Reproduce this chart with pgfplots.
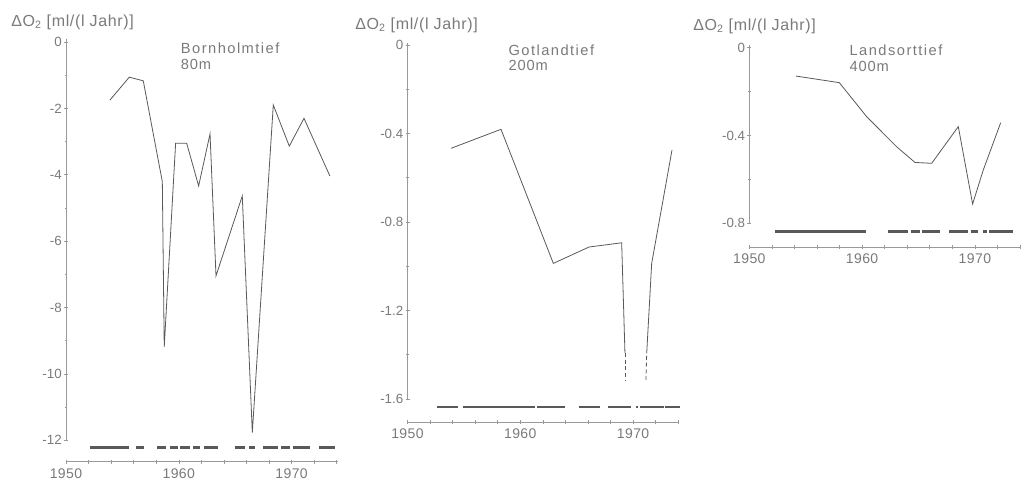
\documentclass[border=0pt]{standalone}
\usepackage{fontspec}
\setmainfont{Liberation Sans}
\usepackage{pgfplots}
\pgfplotsset{compat=1.18}
\definecolor{ink}{gray}{0.35}
\definecolor{txt}{gray}{0.48}
\definecolor{axc}{gray}{0.6}
\definecolor{barc}{gray}{0.35}
\pgfplotsset{
  panel/.style={
    scale only axis, clip=false,
    axis x line*=bottom, axis y line*=left,
    x axis line style={axc, line width=0.4pt},
    y axis line style={draw=none},
    xmin=1950, xmax=1974.1,
    width=203.85pt,
    tick align=center,
    major tick length=3pt, minor tick length=2pt,
    tick style={axc, line width=0.4pt},
    xtick={1950,1952,...,1974},
    xticklabels={1950,,,,,1960,,,,,1970,,},
    ticklabel style={font=\fontsize{10}{12}\selectfont, text=txt},
    xticklabel style={font=\fontsize{10.5}{12}\selectfont\addfontfeature{LetterSpace=3}},
    yticklabel style={inner sep=1.5pt},
    unbounded coords=jump,
  },
  dline/.style={ink, line width=0.6pt},
  dbar/.style={barc, line width=2pt},
}
\begin{document}
\begin{tikzpicture}
\useasboundingbox (0,0) rectangle (774pt,365.25pt);

% ---------- Bornholmtief ----------
\begin{axis}[panel, at={(49.5pt,18.98pt)}, anchor=south west,
  height=314.78pt, ymin=-12.65, ymax=0,
  ytick={-12,-10,-8,-6,-4,-2,0},
  yticklabels={-12,-10,-8,-6,-4,-2,0},
  minor ytick={-11,-9,-7,-5,-3,-1}]
\draw[axc, line width=0.4pt] (axis cs:1950,0.1) -- (axis cs:1950,-12);
\addplot[dline] coordinates {
 (1953.90,-1.75) (1955.61,-1.06) (1956.85,-1.17) (1958.54,-4.21)
 (1958.71,-9.19) (1959.72,-3.05) (1960.70,-3.05) (1961.76,-4.34)
 (1962.77,-2.77) (1963.30,-7.05) (1965.63,-4.64) (1966.52,-11.77)
 (1968.38,-1.90) (1969.80,-3.14) (1971.10,-2.30) (1973.40,-4.04)};
\addplot[dbar] coordinates {
 (1952.13,-12.23) (1955.59,-12.23) (1955.9,nan)
 (1956.2,-12.23) (1956.9,-12.23) (1957.5,nan)
 (1958.1,-12.23) (1958.9,-12.23) (1959.0,nan)
 (1959.2,-12.23) (1959.96,-12.23) (1960.0,nan)
 (1960.1,-12.23) (1961.0,-12.23) (1961.1,nan)
 (1961.3,-12.23) (1961.9,-12.23) (1962.0,nan)
 (1962.2,-12.23) (1963.5,-12.23) (1964.0,nan)
 (1965.0,-12.23) (1965.9,-12.23) (1966.0,nan)
 (1966.2,-12.23) (1966.8,-12.23) (1967.0,nan)
 (1967.5,-12.23) (1968.8,-12.23) (1968.9,nan)
 (1969.1,-12.23) (1969.86,-12.23) (1970.0,nan)
 (1970.15,-12.23) (1971.6,-12.23) (1972.0,nan)
 (1972.45,-12.23) (1973.85,-12.23)};
\end{axis}

% ---------- Gotlandtief ----------
\begin{axis}[panel, at={(305.63pt,48.75pt)}, anchor=south west,
  height=282.75pt, ymin=-1.704, ymax=0,
  ytick={-1.6,-1.2,-0.8,-0.4,0},
  yticklabels={-1.6,-1.2,-0.8,-0.4,0},
  minor ytick={-1.4,-1.0,-0.6,-0.2}]
\draw[axc, line width=0.4pt] (axis cs:1950,0.01) -- (axis cs:1950,-1.6);
\addplot[dline] coordinates {
 (1953.86,-0.467) (1958.29,-0.381) (1962.93,-0.987) (1966.10,-0.913)
 (1968.99,-0.894) (1969.28,-1.392)};
\addplot[dline, densely dashed] coordinates {(1969.28,-1.392) (1969.28,-1.514)};
\addplot[dline, densely dashed] coordinates {(1971.14,-1.514) (1971.21,-1.392)};
\addplot[dline] coordinates {
 (1971.21,-1.392) (1971.65,-0.987) (1973.45,-0.475)};
\addplot[dbar] coordinates {
 (1952.6,-1.636) (1954.5,-1.636) (1954.7,nan)
 (1954.9,-1.636) (1961.3,-1.636) (1961.4,nan)
 (1961.5,-1.636) (1964.0,-1.636) (1964.5,nan)
 (1965.2,-1.636) (1967.1,-1.636) (1967.5,nan)
 (1967.8,-1.636) (1969.8,-1.636) (1970.0,nan)
 (1970.3,-1.636) (1970.45,-1.636) (1970.5,nan)
 (1970.65,-1.636) (1972.7,-1.636) (1972.75,nan)
 (1972.8,-1.636) (1974.2,-1.636)};
\end{axis}

% ---------- Landsorttief ----------
\begin{axis}[panel, at={(561.98pt,179.78pt)}, anchor=south west,
  height=149.85pt, ymin=-0.909, ymax=0,
  ytick={-0.8,-0.4,0},
  yticklabels={-0.8,-0.4,0},
  minor ytick={-0.6,-0.2}]
\draw[axc, line width=0.4pt] (axis cs:1950,0.01) -- (axis cs:1950,-0.8);
\addplot[dline] coordinates {
 (1954.14,-0.130) (1957.98,-0.160) (1960.41,-0.315) (1963.07,-0.452)
 (1964.69,-0.523) (1966.17,-0.527) (1968.53,-0.360) (1969.80,-0.712)
 (1970.74,-0.558) (1972.29,-0.342)};
\addplot[dbar] coordinates {
 (1952.29,-0.838) (1960.36,-0.838) (1961.0,nan)
 (1962.3,-0.838) (1964.1,-0.838) (1964.2,nan)
 (1964.3,-0.838) (1965.1,-0.838) (1965.2,nan)
 (1965.3,-0.838) (1966.95,-0.838) (1967.3,nan)
 (1967.73,-0.838) (1969.41,-0.838) (1969.5,nan)
 (1969.65,-0.838) (1970.28,-0.838) (1970.5,nan)
 (1970.73,-0.838) (1971.1,-0.838) (1971.2,nan)
 (1971.25,-0.838) (1973.35,-0.838)};
\end{axis}

% ---------- texts ----------
\begin{scope}[every node/.style={anchor=west, inner sep=0pt, text=txt}]
\node[font=\fontsize{12}{14}\selectfont\addfontfeature{LetterSpace=4}] at (8.25pt,348.75pt) {ΔO\textsubscript{2} [ml/(l Jahr)]};
\node[font=\fontsize{12}{14}\selectfont\addfontfeature{LetterSpace=4}] at (266.25pt,346.5pt) {ΔO\textsubscript{2} [ml/(l Jahr)]};
\node[font=\fontsize{12}{14}\selectfont\addfontfeature{LetterSpace=4}] at (519.75pt,345.75pt) {ΔO\textsubscript{2} [ml/(l Jahr)]};
\node[font=\fontsize{11}{13}\selectfont\addfontfeature{LetterSpace=10}] at (135.5pt,329.25pt) {Bornholmtief};
\node[font=\fontsize{11}{13}\selectfont\addfontfeature{LetterSpace=6}] at (135.5pt,317.25pt) {80m};
\node[font=\fontsize{11}{13}\selectfont\addfontfeature{LetterSpace=10}] at (381.2pt,327.75pt) {Gotlandtief};
\node[font=\fontsize{11}{13}\selectfont\addfontfeature{LetterSpace=6}] at (381.2pt,316.5pt) {200m};
\node[font=\fontsize{11}{13}\selectfont\addfontfeature{LetterSpace=10}] at (637pt,327.75pt) {Landsorttief};
\node[font=\fontsize{11}{13}\selectfont\addfontfeature{LetterSpace=6}] at (637pt,315.2pt) {400m};
\end{scope}
\end{tikzpicture}
\end{document}
